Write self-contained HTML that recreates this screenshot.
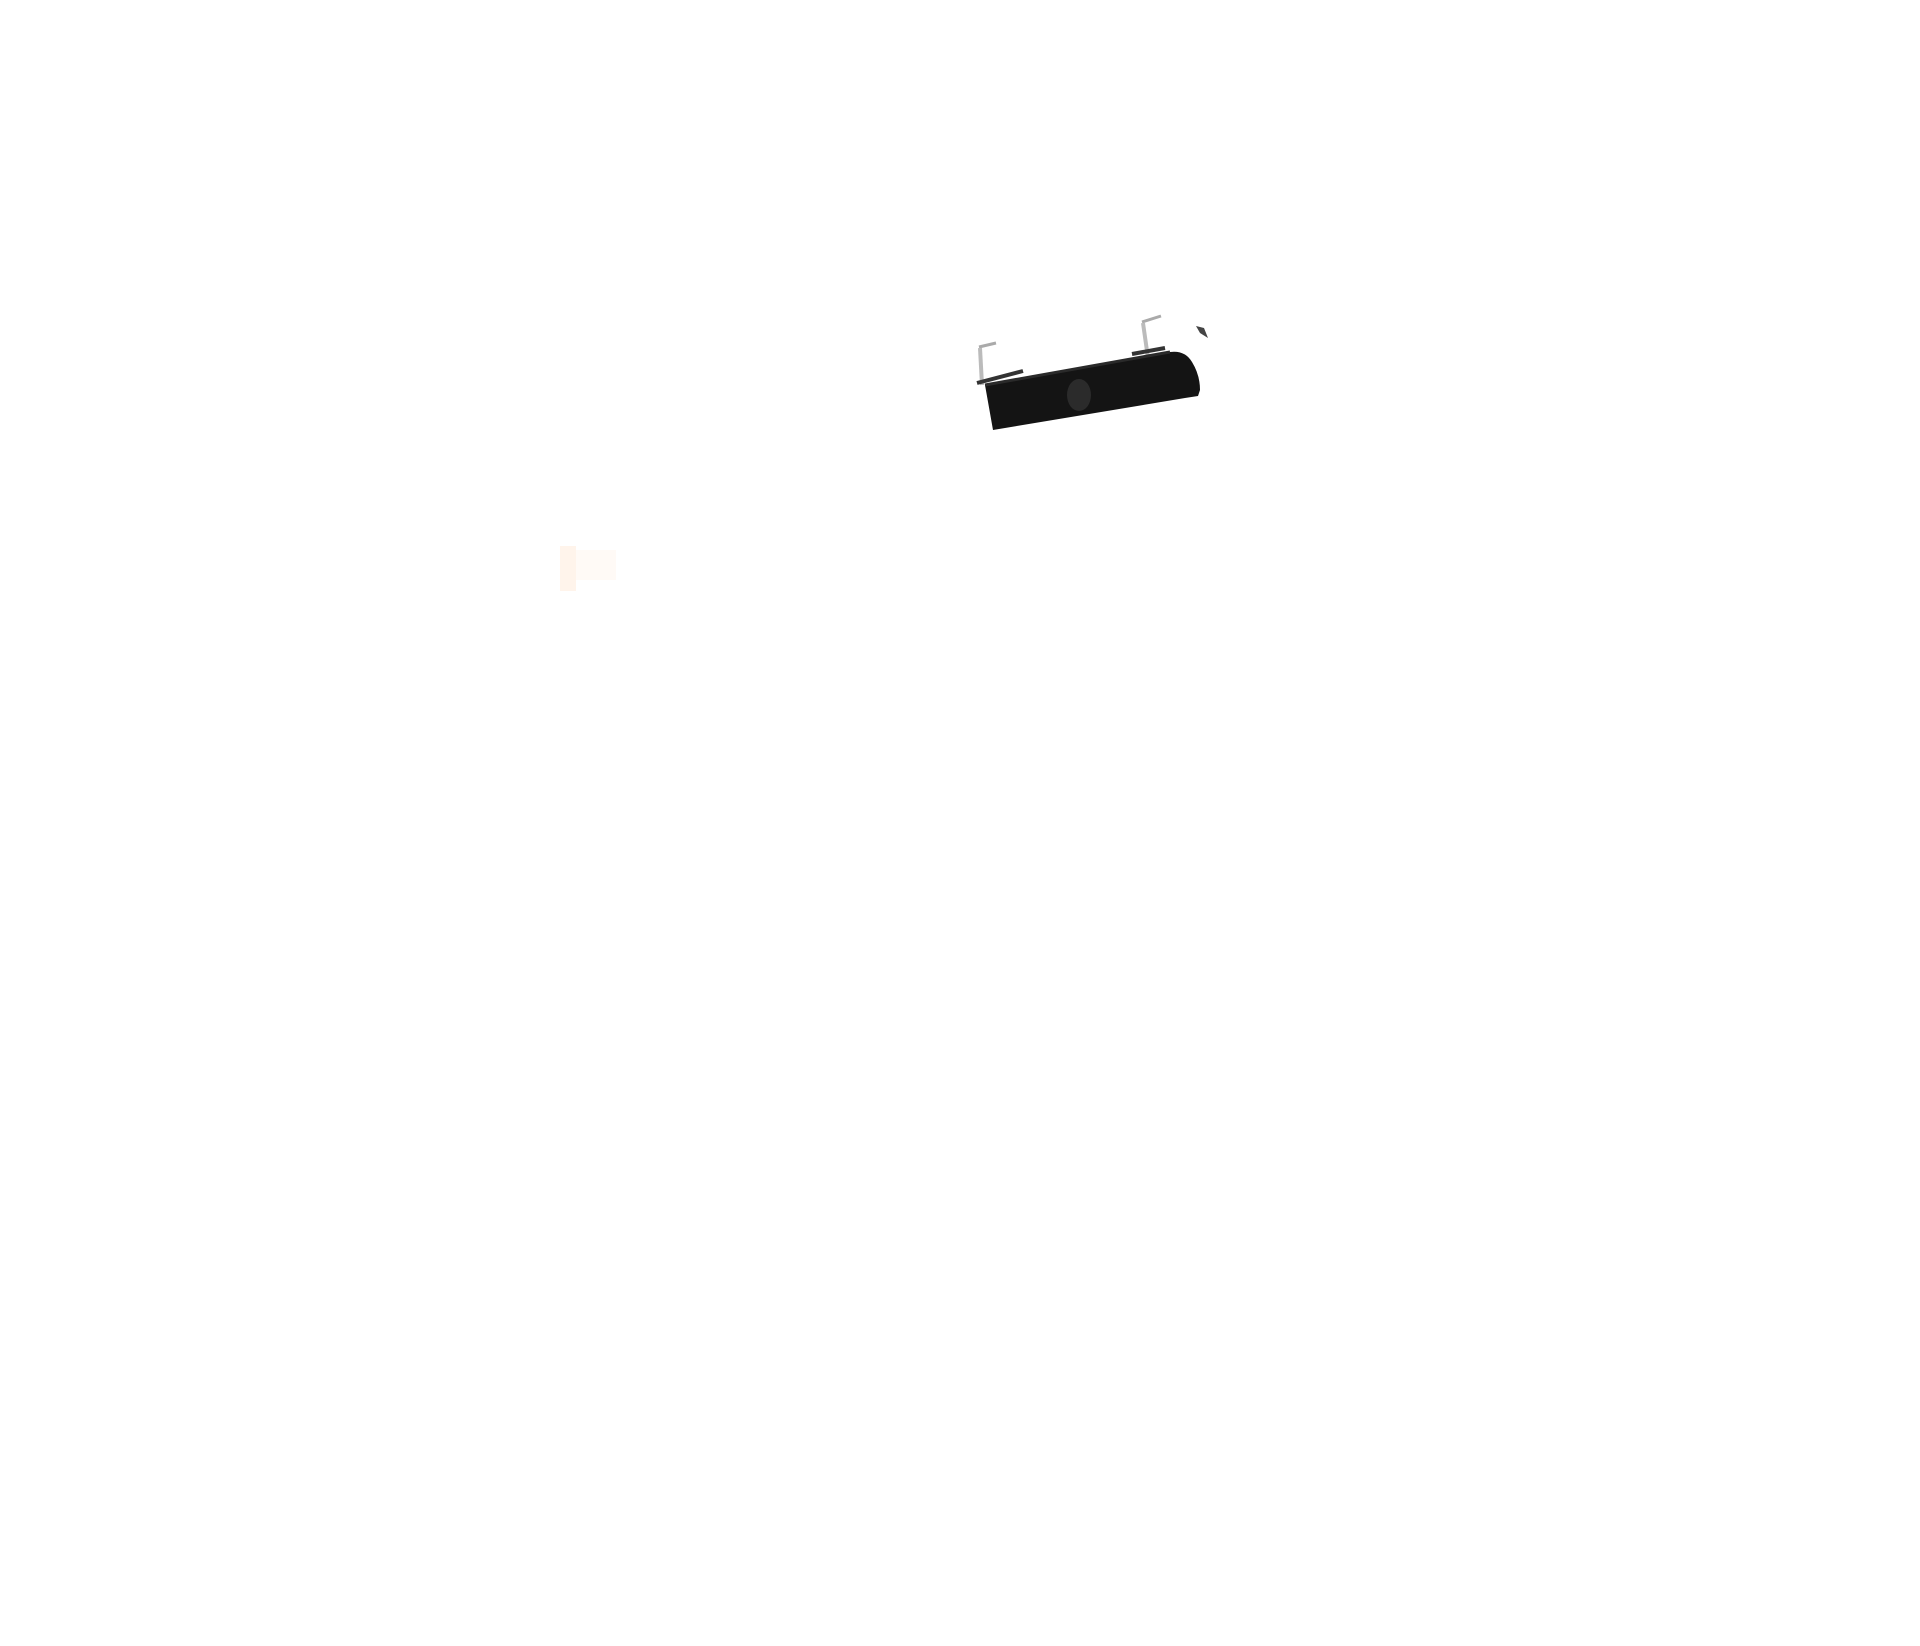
<!DOCTYPE html>
<html><head><meta charset="utf-8"><style>
html,body{margin:0;padding:0;background:#fff;width:1920px;height:1646px;overflow:hidden}
svg{position:absolute;left:0;top:0}
</style></head><body>
<svg width="1920" height="1646" viewBox="0 0 1920 1646">
  <rect x="560" y="546" width="16" height="45" fill="#ffe6d2" opacity="0.45"/>
  <rect x="576" y="550" width="40" height="30" fill="#fff4ea" opacity="0.45"/>
  <path d="M979 347 L996 343" stroke="#aaa" stroke-width="3" fill="none"/>
  <path d="M980 348 L982 385" stroke="#bbb" stroke-width="4" fill="none"/>
  <path d="M977 383 L1023 371" stroke="#333" stroke-width="4" fill="none"/>
  <path d="M1142 322 L1161 316" stroke="#aaa" stroke-width="3" fill="none"/>
  <path d="M1143 323 L1148 358" stroke="#bbb" stroke-width="4" fill="none"/>
  <path d="M1132 354 L1165 348" stroke="#333" stroke-width="4" fill="none"/>
  <path d="M1196 326 L1204 328 L1208 338 L1200 333 Z" fill="#444"/>
  <path d="M985 385 L1170 352 Q1185 350 1192 362 Q1200 375 1200 390 L1198 396 L1185 398 L993 430 Z" fill="#141414"/>
  <path d="M985 385 L1170 352" stroke="#2a2a2a" stroke-width="3"/>
  <ellipse cx="1079" cy="395" rx="12" ry="16" fill="#2b2b2b"/>
</svg>
</body></html>
